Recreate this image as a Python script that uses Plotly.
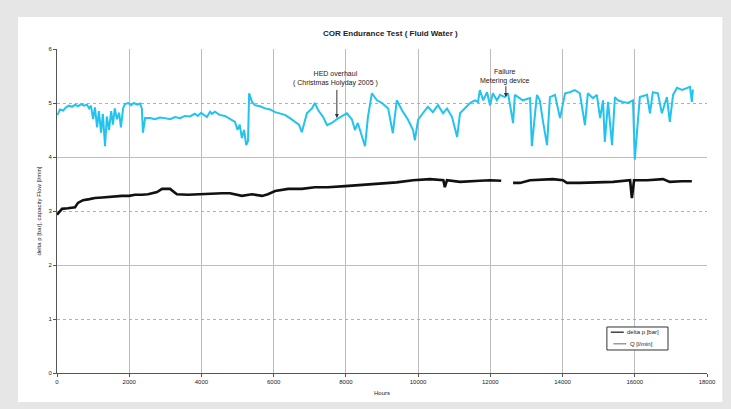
import plotly.graph_objects as go

# ---- data ----
q_hours = [0, 30, 80, 170, 250, 330, 420, 500, 580, 660, 750, 830, 890, 940, 1000, 1050, 1110, 1160,
           1220, 1270, 1330, 1380, 1440, 1500, 1550, 1600, 1660, 1720, 1770, 1830, 1880, 1970, 2050,
           2130, 2220, 2300, 2350, 2380, 2440, 2580, 2710, 2850, 2990, 3130, 3270, 3410, 3540, 3680,
           3820, 3900, 3990, 4070, 4150, 4240, 4290, 4375, 4500, 4650, 4800, 4930, 5000, 5060, 5120,
           5180, 5240, 5290, 5320, 5400, 5480, 5620, 5760, 5900, 6040, 6180, 6310, 6450, 6590, 6700,
           6780, 6920, 7060, 7140, 7230, 7370, 7480, 7610, 7750, 8030, 8170, 8250, 8330, 8450, 8530,
           8610, 8720, 8860, 9000, 9170, 9300, 9410, 9550, 9720, 9860, 9910, 10000, 10130, 10270,
           10410, 10550, 10690, 10800, 10940, 11080, 11160, 11300, 11440, 11570, 11660, 11710, 11800,
           11910, 11990, 12070, 12180, 12270, 12400, 12490, 12630, 12680, 12770, 12900, 13100, 13150,
           13290, 13370, 13460, 13570, 13650, 13790, 13930, 14070, 14200, 14340, 14480, 14620, 14700,
           14840, 14950, 15040, 15120, 15170, 15260, 15370, 15450, 15530, 15670, 15810, 15950, 16000,
           16140, 16340, 16420, 16500, 16640, 16750, 16890, 16970, 17060, 17170, 17310, 17440, 17530,
           17580, 17610]
q_values = [4.78, 4.80, 4.88, 4.86, 4.92, 4.95, 4.93, 4.97, 4.94, 4.98, 4.95, 4.97, 4.90, 4.95, 4.70,
            4.92, 4.55, 4.85, 4.45, 4.80, 4.20, 4.75, 4.50, 4.85, 4.60, 4.90, 4.70, 4.82, 4.55, 4.90,
            4.98, 5.00, 4.96, 5.00, 4.97, 4.99, 4.90, 4.45, 4.72, 4.72, 4.70, 4.73, 4.72, 4.70, 4.74,
            4.72, 4.76, 4.75, 4.80, 4.76, 4.82, 4.78, 4.74, 4.84, 4.80, 4.84, 4.78, 4.76, 4.70, 4.65,
            4.50, 4.60, 4.35, 4.50, 4.22, 4.30, 5.18, 5.02, 4.96, 4.94, 4.90, 4.88, 4.83, 4.80, 4.78,
            4.72, 4.65, 4.60, 4.46, 4.81, 4.90, 5.00, 4.87, 4.74, 4.59, 4.63, 4.70, 4.81, 4.69, 4.50,
            4.63, 4.35, 4.20, 4.74, 5.18, 5.05, 5.00, 4.90, 4.44, 5.05, 4.87, 4.69, 4.50, 4.31, 4.69,
            4.81, 4.93, 4.83, 4.96, 4.81, 4.90, 4.74, 4.37, 4.81, 4.90, 5.00, 5.05, 5.02, 5.24, 5.05,
            5.20, 4.96, 5.18, 5.05, 5.15, 5.11, 5.18, 4.63, 5.15, 5.11, 5.05, 5.09, 4.20, 5.15, 5.05,
            4.65, 4.22, 5.11, 5.15, 4.72, 5.18, 5.20, 5.24, 5.18, 4.59, 5.18, 5.09, 5.15, 4.72, 5.05,
            4.28, 5.02, 4.22, 5.11, 5.05, 5.02, 5.00, 5.05, 3.95, 5.11, 5.15, 4.81, 5.20, 5.18, 4.81,
            5.11, 4.65, 5.15, 5.28, 5.24, 5.28, 5.30, 5.02, 5.25]

dp_hours = [0, 140, 300, 500, 580, 720, 900, 1050, 1250, 1410, 1600, 1800, 2000, 2160, 2350, 2520,
            2770, 2910, 3130, 3320, 3630, 3850, 4100, 4350, 4570, 4790, 5120, 5400, 5680, 5840, 6040,
            6400, 6780, 7140, 7500, 7980, 8450, 9000, 9400, 9860, 10330, 10700, 10740, 10800, 11160,
            11710, 11990, 12300, 12540, 12630, 12820, 13100, 13730, 14010, 14120, 14480, 14900, 15400,
            15870, 15920, 15980, 16340, 16780, 16970, 17300, 17580]
dp_values = [2.93, 3.04, 3.05, 3.07, 3.15, 3.20, 3.22, 3.24, 3.25, 3.26, 3.27, 3.28, 3.28, 3.30, 3.30,
             3.31, 3.35, 3.41, 3.41, 3.31, 3.30, 3.31, 3.31, 3.32, 3.33, 3.33, 3.28, 3.31, 3.28, 3.31,
             3.37, 3.41, 3.41, 3.44, 3.44, 3.46, 3.48, 3.50, 3.53, 3.57, 3.59, 3.57, 3.44, 3.57, 3.54,
             3.56, 3.57, 3.56, None, 3.52, 3.52, 3.57, 3.59, 3.57, 3.52, 3.52, 3.53, 3.54, 3.57, 3.24,
             3.57, 3.57, 3.59, 3.54, 3.55, 3.55]

series_names = ["delta p [bar]", "Q [l/min]"]
title_text = "COR Endurance Test ( Fluid Water )"
x_title = "Hours"
y_title = "delta p [bar], capacity Flow [l/min]"
note_hed = "HED overhaul<br>( Christmas Holyday 2005 )"
note_fail = "Failure<br>Metering device"

FONT = "Liberation Sans, Arial, sans-serif"
TXT = "#222222"

fig = go.Figure()
fig.add_trace(go.Scatter(x=dp_hours, y=dp_values, mode="lines", name=series_names[0],
                         line=dict(color="#111111", width=2.6), connectgaps=False, showlegend=False))
fig.add_trace(go.Scatter(x=q_hours, y=q_values, mode="lines", name=series_names[1],
                         line=dict(color="#22c3ee", width=2.0), showlegend=False))
# empty helper trace so that the solid-grid overlay axis is drawn
fig.add_trace(go.Scatter(x=[None], y=[None], yaxis="y2", showlegend=False, hoverinfo="skip"))

# white panel on grey page
fig.add_shape(type="rect", xref="paper", yref="paper", x0=-0.06, x1=1.0235, y0=-0.0895, y1=1.099,
              fillcolor="white", line=dict(width=0), layer="below")

# hand-made compact legend (box, line samples, labels)
fig.add_shape(type="rect", xref="paper", yref="paper", x0=0.846, x1=0.94, y0=0.071, y1=0.142,
              fillcolor="white", line=dict(color="#333333", width=1))
fig.add_shape(type="line", xref="paper", yref="paper", x0=0.852, x1=0.872, y0=0.126, y1=0.126,
              line=dict(color="#111111", width=1.2))
fig.add_shape(type="line", xref="paper", yref="paper", x0=0.856, x1=0.876, y0=0.09, y1=0.09,
              line=dict(color="#444444", width=0.8))
fig.add_annotation(xref="paper", yref="paper", x=0.874, y=0.126, text=series_names[0],
                   showarrow=False, xanchor="left", yanchor="middle",
                   font=dict(size=6, color=TXT, family=FONT))
fig.add_annotation(xref="paper", yref="paper", x=0.878, y=0.09, text=series_names[1],
                   showarrow=False, xanchor="left", yanchor="middle",
                   font=dict(size=6, color=TXT, family=FONT))

fig.add_annotation(x=7700, y=5.45, text=note_hed, showarrow=False,
                   font=dict(size=7, color=TXT, family=FONT))
fig.add_annotation(x=7750, y=4.72, ax=7750, ay=5.27, axref="x", ayref="y", text="",
                   showarrow=True, arrowhead=2, arrowsize=0.8, arrowwidth=1, arrowcolor="#333333")
fig.add_annotation(x=12400, y=5.5, text=note_fail, showarrow=False,
                   font=dict(size=7, color=TXT, family=FONT))
fig.add_annotation(x=12430, y=5.11, ax=12430, ay=5.34, axref="x", ayref="y", text="",
                   showarrow=True, arrowhead=2, arrowsize=0.8, arrowwidth=1, arrowcolor="#333333")

fig.update_layout(
    width=731, height=409,
    paper_bgcolor="#e6e6e6", plot_bgcolor="white",
    margin=dict(l=57, r=24, t=49, b=36),
    font=dict(family=FONT, size=7, color=TXT),
    title=dict(text="<b>" + title_text + "</b>", x=0.534, xanchor="center", y=0.919, yanchor="middle",
               font=dict(size=8, color=TXT, family=FONT)),
    showlegend=False,
    xaxis=dict(range=[0, 18000], dtick=2000, tickformat="d", showgrid=True, gridcolor="#bdbdbd",
               gridwidth=1, zeroline=False, showline=True, linecolor="#555555", linewidth=1,
               ticks="outside", ticklen=3, tickcolor="#555555", automargin=False,
               tickfont=dict(size=6, color=TXT),
               title=dict(text=x_title, font=dict(size=6, color=TXT), standoff=6)),
    yaxis=dict(range=[0, 6], dtick=1, showgrid=True, gridcolor="#b0b0b0", griddash="dot",
               zeroline=False, showline=True, linecolor="#555555", linewidth=1,
               ticks="outside", ticklen=3, tickcolor="#555555", automargin=False,
               tickfont=dict(size=6, color=TXT),
               title=dict(text=y_title, font=dict(size=6, color=TXT), standoff=6)),
    yaxis2=dict(range=[0, 6], dtick=2, overlaying="y", side="left", showgrid=True,
                gridcolor="#bdbdbd", gridwidth=1, showticklabels=False, zeroline=False,
                showline=False, automargin=False),
)

fig.write_html("out.html", post_script="document.body.style.margin='0px';",
               config={"displayModeBar": False})
